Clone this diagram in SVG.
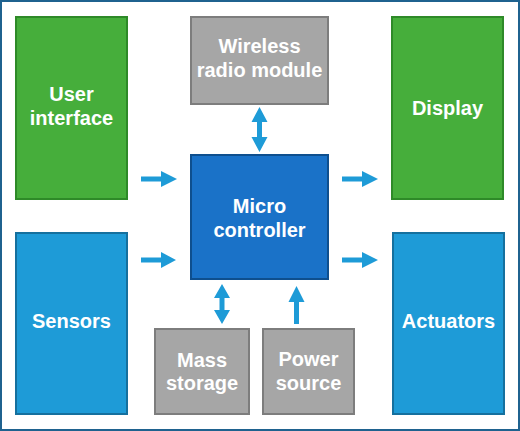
<svg xmlns="http://www.w3.org/2000/svg" width="520" height="431" viewBox="0 0 520 431">
<style>
.green{fill:#46ae3b;stroke:#2e8a28;stroke-width:2}
.grey{fill:#a6a6a6;stroke:#7d7d7d;stroke-width:2}
.micro{fill:#1a72c8;stroke:#0e4f8e;stroke-width:2}
.blue{fill:#1e9bd7;stroke:#15709e;stroke-width:2}
.t{font-family:"Liberation Sans",Arial,sans-serif;font-weight:bold;font-size:20px;fill:#ffffff;text-anchor:middle}
.arr{fill:#1e9bd7}
</style>
<rect x="1" y="1" width="518" height="429" fill="#ffffff" stroke="#1f628f" stroke-width="2"/>
<g id="user-interface"><rect class="green" x="16" y="17" width="111" height="182"/><text class="t" x="71.5" y="101">User</text><text class="t" x="71.5" y="125">interface</text></g>
<g id="wireless"><rect class="grey" x="191" y="17" width="137" height="87"/><text class="t" x="259.5" y="53">Wireless</text><text class="t" x="259.5" y="77">radio module</text></g>
<g id="display"><rect class="green" x="392" y="17" width="111" height="182"/><text class="t" x="447.5" y="115">Display</text></g>
<g id="micro"><rect class="micro" x="191" y="155" width="137" height="124"/><text class="t" x="259.5" y="213">Micro</text><text class="t" x="259.5" y="237">controller</text></g>
<g id="sensors"><rect class="blue" x="16" y="233" width="111" height="181"/><text class="t" x="71.5" y="328">Sensors</text></g>
<g id="mass-storage"><rect class="grey" x="155" y="329" width="94" height="85"/><text class="t" x="202" y="367">Mass</text><text class="t" x="202" y="390">storage</text></g>
<g id="power-source"><rect class="grey" x="263" y="329" width="91" height="85"/><text class="t" x="308.5" y="366">Power</text><text class="t" x="308.5" y="390">source</text></g>
<g id="actuators"><rect class="blue" x="393" y="233" width="111" height="181"/><text class="t" x="448.5" y="328">Actuators</text></g>
<g id="connectors" class="arr">
<path d="M141,176.5 H161 V171 L177,179 L161,187 V181.5 H141 Z"/>
<path d="M141,257.5 H161 V252 L176,260 L161,268 V262.5 H141 Z"/>
<path d="M342,176.5 H362 V171 L378,179 L362,187 V181.5 H342 Z"/>
<path d="M342,257.5 H362 V252 L378,260 L362,268 V262.5 H342 Z"/>
<path d="M259.5,107 L267.5,122 H262 V137 H267.5 L259.5,152 L251.5,137 H257 V122 H251.5 Z"/>
<path d="M222,284 L230,298 H224.5 V310 H230 L222,324 L214,310 H219.5 V298 H214 Z"/>
<path d="M296.5,286 L304.5,302 H299 V324 H294 V302 H288.5 Z"/>
</g>
</svg>
